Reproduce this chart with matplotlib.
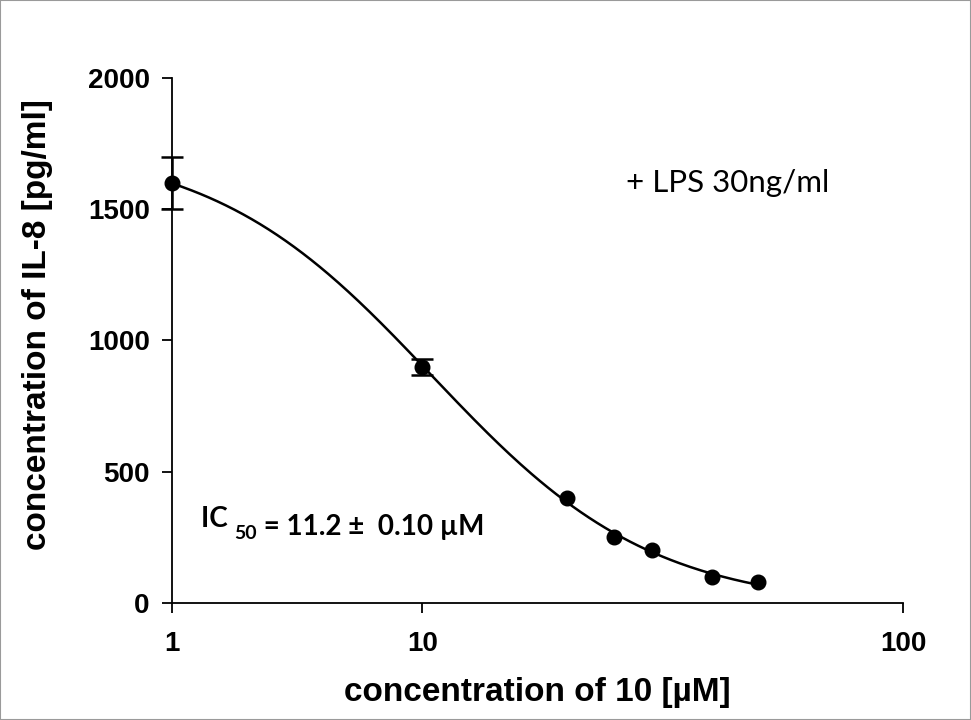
import numpy as np
import matplotlib.pyplot as plt
from matplotlib.patches import Rectangle

# measured points (concentration of 10 in uM, IL-8 in pg/ml)
conc = np.array([1, 10, 20, 25, 30, 40, 50], dtype=float)
il8 = np.array([1600, 900, 400, 250, 200, 100, 80], dtype=float)
err = np.array([100, 30, 0, 0, 0, 0, 0], dtype=float)

x_ticks = [1, 10, 100]
y_ticks = [0, 500, 1000, 1500, 2000]

# the first decade of the original axis is drawn shorter than the second
k = 250 / 480


def fwd(x):
    lx = np.log10(np.clip(x, 1e-6, None))
    return np.where(lx <= 1, lx * k, k + lx - 1)


def inv(y):
    return np.where(y <= k, 10 ** (y / k), 10 ** (y - k + 1))


# sigmoid fit in the plotted coordinate: y = B + (T-B)/(1+exp(s(u-u0)))
u = fwd(conc)
best = None
for s in np.linspace(2, 8, 121):
    for u0 in np.linspace(0.3, 0.8, 101):
        g = 1 / (1 + np.exp(s * (u - u0)))
        A = np.column_stack([g, 1 - g])
        coef, *_ = np.linalg.lstsq(A, il8, rcond=None)
        sse = np.sum((A @ coef - il8) ** 2)
        if best is None or sse < best[0]:
            best = (sse, s, u0, coef)
_, s_fit, u0_fit, (T_fit, B_fit) = best

plt.rcParams['font.family'] = ['Liberation Sans', 'DejaVu Sans']

fig = plt.figure(figsize=(9.71, 7.2), dpi=100)
ax = fig.add_axes([0.177, 0.1625, 0.753, 0.7292])
ax.set_xscale('function', functions=(fwd, inv))

x_fit = np.geomspace(1, 50, 300)
gf = 1 / (1 + np.exp(s_fit * (fwd(x_fit) - u0_fit)))
ax.plot(x_fit, B_fit + (T_fit - B_fit) * gf, color='black', lw=1.8,
        zorder=3)

eb = ax.errorbar(conc[:2], il8[:2], yerr=err[:2], fmt='none',
                 ecolor='black', elinewidth=1.8, capsize=8, capthick=1.8,
                 zorder=4)
for art in eb.get_children():
    art.set_clip_on(False)
ax.plot(conc, il8, 'o', color='black', ms=10.5, zorder=5, clip_on=False)

ax.set_xlim(1, 100)
ax.set_ylim(0, 2000)
ax.set_xticks(x_ticks)
ax.set_xticklabels([str(t) for t in x_ticks])
ax.xaxis.set_minor_locator(plt.NullLocator())
ax.set_yticks(y_ticks)

for s in ['top', 'right']:
    ax.spines[s].set_visible(False)
for s in ['left', 'bottom']:
    ax.spines[s].set_linewidth(1.3)
ax.tick_params(axis='both', direction='out', length=7, width=1.3,
               labelsize=20)
ax.tick_params(axis='x', pad=13)
ax.tick_params(axis='y', pad=9)
for lab in ax.get_xticklabels() + ax.get_yticklabels():
    lab.set_fontweight('bold')

ax.set_xlabel('concentration of 10 [µM]', fontsize=24, fontweight='bold')
ax.xaxis.set_label_coords(0.5, -0.14)
ax.set_ylabel('concentration of IL-8 [pg/ml]', fontsize=24,
              fontweight='bold')
ax.yaxis.set_label_coords(-0.163, 0.531)

ax.text(0.621, 0.80, '+ LPS 30ng/ml', transform=ax.transAxes,
        fontsize=22.5, family=['Lato', 'DejaVu Sans'], va='center')

t1 = ax.text(0.04, 0.145, 'IC ', transform=ax.transAxes, fontsize=20,
             fontweight='bold', family=['Lato', 'DejaVu Sans'],
             va='baseline')
t2 = ax.annotate('50', xy=(1, 0), xycoords=t1, xytext=(0, -5),
                 textcoords='offset points', fontsize=14, fontweight='bold',
                 family=['Lato', 'DejaVu Sans'], va='baseline')
ax.annotate(' = 11.2 ±  0.10 µM', xy=(1, 0), xycoords=t2, xytext=(0, 5),
            textcoords='offset points', fontsize=20, fontweight='bold',
            family=['Lato', 'DejaVu Sans'], va='baseline')

fig.patches.append(Rectangle((0, 0), 1, 1, transform=fig.transFigure,
                             fill=False, edgecolor='#9a9a9a', lw=1.5))

fig.savefig('out.png', dpi=100)
